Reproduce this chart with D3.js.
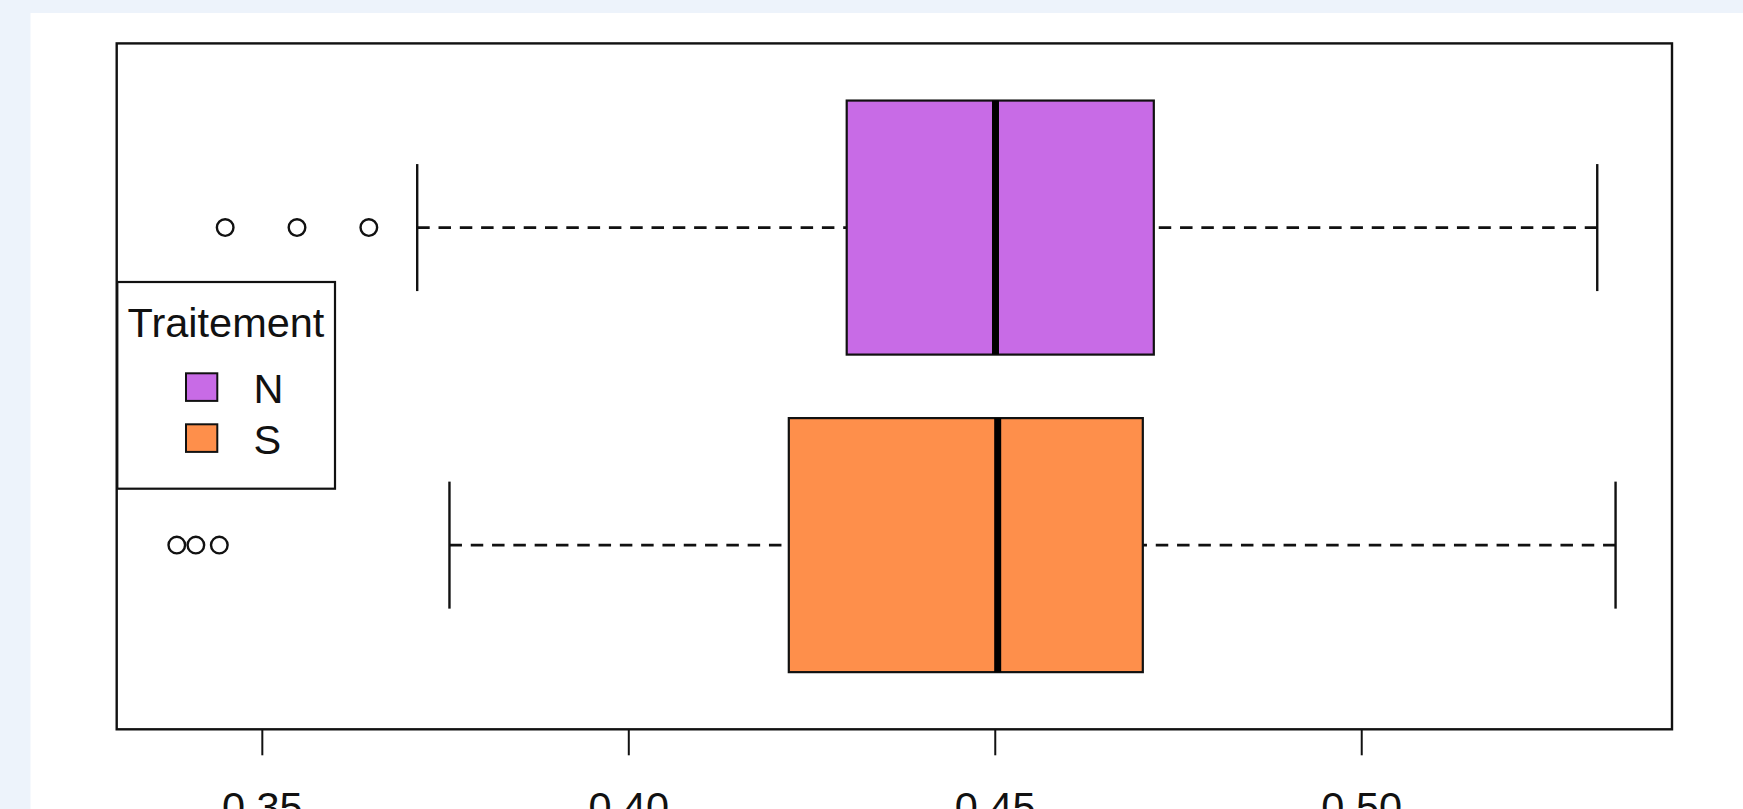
<!DOCTYPE html>
<html>
<head>
<meta charset="utf-8">
<script src="https://cdn.jsdelivr.net/npm/d3@7"></script>
<style>
  html, body { margin: 0; padding: 0; background: #EDF3FB; }
  svg { display: block; }
  text { font-family: "Liberation Sans", Arial, sans-serif; fill: #111; }
</style>
</head>
<body>
<svg id="chart" width="1743" height="809"></svg>
<script>
// Groups, listed from bottom to top of the plot
const groups = ["S", "N"];
const fillColors = ["#FE8F4B", "#C86BE6"];

// Five-number summaries per group
const lowerWhisker = [0.3756, 0.3712];
const quartile1    = [0.4219, 0.4298];
const medians      = [0.4504, 0.4501];
const quartile3    = [0.4702, 0.4717];
const upperWhisker = [0.5347, 0.5322];

// Points beyond the whiskers
const outliersS = [0.3384, 0.3410, 0.3442];
const outliersN = [0.3450, 0.3548, 0.3646];

const tickValues = [0.35, 0.40, 0.45, 0.50];
const tickLabels = ["0.35", "0.40", "0.45", "0.50"];
const xLimits = [0.3302, 0.5424];

const legendTitle = "Traitement";
const legendOrder = ["N", "S"];

const svg = d3.select("#chart");

// White drawing panel
svg.append("rect")
  .attr("x", 30.5).attr("y", 13)
  .attr("width", 1743 - 30.5).attr("height", 809 - 13)
  .attr("fill", "#fff");

const plot = { left: 116.7, right: 1672, top: 43.4, bottom: 729.3 };

const x = d3.scaleLinear().domain(xLimits).range([plot.left, plot.right]);
// Box positions 1..n with the usual 4% padding around [0.5, n + 0.5]
const n = groups.length;
const pad = 0.04 * n;
const y = d3.scaleLinear().domain([0.5 - pad, n + 0.5 + pad]).range([plot.bottom, plot.top]);

const boxHalf = 0.4;   // half box width in position units
const capHalf = 0.2;   // half staple width

const outliers = [outliersS, outliersN];
const stroke = "#111";
const dash = "12.5,8.8";

const boxes = groups.map((g, i) => ({
  name: g, pos: i + 1, fill: fillColors[i],
  lo: lowerWhisker[i], q1: quartile1[i], med: medians[i], q3: quartile3[i], hi: upperWhisker[i],
  out: outliers[i]
}));

const gBox = svg.selectAll("g.box").data(boxes).join("g").attr("class", "box");

// Dashed whiskers, drawn from the staple in toward the box
gBox.append("line")
  .attr("x1", d => x(d.lo)).attr("x2", d => x(d.q1))
  .attr("y1", d => y(d.pos)).attr("y2", d => y(d.pos))
  .attr("stroke", stroke).attr("stroke-width", 2.7).attr("stroke-dasharray", dash);
gBox.append("line")
  .attr("x1", d => x(d.hi)).attr("x2", d => x(d.q3))
  .attr("y1", d => y(d.pos)).attr("y2", d => y(d.pos))
  .attr("stroke", stroke).attr("stroke-width", 2.7).attr("stroke-dasharray", dash);

// Staples
[d => d.lo, d => d.hi].forEach(acc => {
  gBox.append("line")
    .attr("x1", d => x(acc(d))).attr("x2", d => x(acc(d)))
    .attr("y1", d => y(d.pos + capHalf)).attr("y2", d => y(d.pos - capHalf))
    .attr("stroke", stroke).attr("stroke-width", 2.4);
});

// Boxes
gBox.append("rect")
  .attr("x", d => x(d.q1)).attr("width", d => x(d.q3) - x(d.q1))
  .attr("y", d => y(d.pos + boxHalf)).attr("height", d => y(d.pos - boxHalf) - y(d.pos + boxHalf))
  .attr("fill", d => d.fill).attr("stroke", stroke).attr("stroke-width", 2.2);

// Medians
gBox.append("line")
  .attr("x1", d => x(d.med)).attr("x2", d => x(d.med))
  .attr("y1", d => y(d.pos + boxHalf)).attr("y2", d => y(d.pos - boxHalf))
  .attr("stroke", "#000").attr("stroke-width", 7);

// Outliers
gBox.each(function(d) {
  d3.select(this).selectAll("circle").data(d.out).join("circle")
    .attr("cx", v => x(v)).attr("cy", y(d.pos)).attr("r", 8.3)
    .attr("fill", "none").attr("stroke", stroke).attr("stroke-width", 2.4);
});

// Bottom axis
const axis = d3.axisBottom(x).tickValues(tickValues)
  .tickFormat((v, i) => tickLabels[i]).tickSize(26).tickPadding(36);
const gAxis = svg.append("g").attr("transform", `translate(0,${plot.bottom})`).call(axis);
gAxis.select(".domain").remove();
gAxis.selectAll(".tick line").attr("stroke", stroke).attr("stroke-width", 2);
gAxis.selectAll(".tick text")
  .attr("font-size", 41.5).attr("fill", "#111")
  .attr("font-family", "'Liberation Sans', Arial, sans-serif");

// Plot frame
svg.append("rect")
  .attr("x", plot.left).attr("y", plot.top)
  .attr("width", plot.right - plot.left).attr("height", plot.bottom - plot.top)
  .attr("fill", "none").attr("stroke", stroke).attr("stroke-width", 2.4);

// Legend
const legend = svg.append("g");
legend.append("rect")
  .attr("x", 117.3).attr("y", 282).attr("width", 335 - 117.3).attr("height", 488.7 - 282)
  .attr("fill", "#fff").attr("stroke", stroke).attr("stroke-width", 2.2);
legend.append("text")
  .attr("x", 226).attr("y", 336.7).attr("text-anchor", "middle")
  .attr("font-size", 41.5).text(legendTitle);

const colorOf = d3.scaleOrdinal().domain(groups).range(fillColors);
const rows = legend.selectAll("g.row").data(legendOrder).join("g").attr("class", "row")
  .attr("transform", (d, i) => `translate(0,${i * 51})`);
rows.append("rect")
  .attr("x", 186).attr("y", 373.3).attr("width", 31.3).attr("height", 27.6)
  .attr("fill", d => colorOf(d)).attr("stroke", stroke).attr("stroke-width", 2);
rows.append("text")
  .attr("x", 253.5).attr("y", 403.3)
  .attr("font-size", 41.5).text(d => d);
</script>
</body>
</html>
